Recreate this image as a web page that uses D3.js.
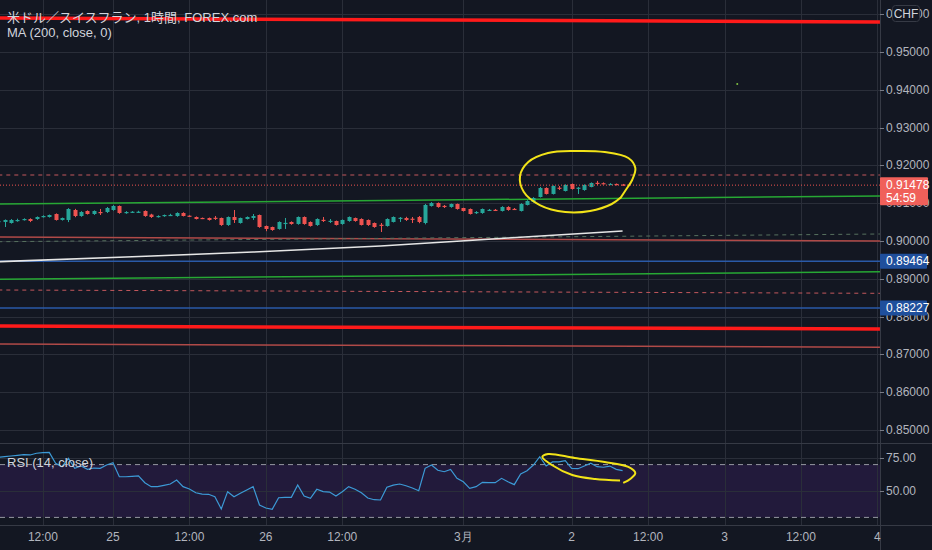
<!DOCTYPE html>
<html>
<head>
<meta charset="utf-8">
<script src="https://cdn.jsdelivr.net/npm/d3@7"></script>
<style>
  html, body { margin: 0; padding: 0; background: #131722; overflow: hidden; }
  svg { display: block; }
  .axis-text { font-family: "Liberation Sans Narrow", "Liberation Sans", Roboto, sans-serif; font-size: 12px; fill: #b2b5be; }
  .legend { font-family: "Liberation Sans", "Noto Sans CJK JP", sans-serif; font-size: 13px; fill: #d1d4dc; }
</style>
</head>
<body>
<div id="chart"></div>
<script>
// hourly candles, USD/CHF
let opens = [0.90503,0.90503,0.90476,0.90529,0.90556,0.90582,0.90582,0.90635,0.90635,0.90714,
  0.90556,0.90556,0.90820,0.90661,0.90794,0.90714,0.90767,0.90767,0.90820,0.90926,
  0.90741,0.90760,0.90760,0.90794,0.90700,0.90640,0.90661,0.90680,0.90661,0.90741,
  0.90670,0.90635,0.90610,0.90609,0.90615,0.90609,0.90423,0.90635,0.90476,0.90582,
  0.90609,0.90688,0.90397,0.90370,0.90318,0.90470,0.90503,0.90450,0.90635,0.90503,
  0.90423,0.90560,0.90525,0.90529,0.90450,0.90529,0.90609,0.90582,0.90556,0.90476,
  0.90430,0.90397,0.90503,0.90600,0.90609,0.90590,0.90635,0.90476,0.90926,0.91005,
  0.90930,0.90900,0.90979,0.90873,0.90847,0.90741,0.90741,0.90815,0.90825,0.90794,
  0.90900,0.90850,0.90794,0.90953,0.91032,0.91164,0.91402,0.91244,0.91410,0.91323,
  0.91508,0.91395,0.91349,0.91429,0.91540,0.91530,0.91500,0.91510,0.91495]
let highs = [0.90550,0.90570,0.90580,0.90590,0.90600,0.90600,0.90650,0.90680,0.90700,0.90730,
  0.90620,0.90870,0.90850,0.90790,0.90810,0.90810,0.90847,0.90900,0.90950,0.90940,
  0.90790,0.90790,0.90800,0.90810,0.90720,0.90680,0.90700,0.90720,0.90760,0.90760,
  0.90680,0.90650,0.90620,0.90620,0.90661,0.90620,0.90650,0.90820,0.90620,0.90650,
  0.90714,0.90700,0.90410,0.90380,0.90520,0.90609,0.90520,0.90650,0.90650,0.90520,
  0.90600,0.90635,0.90582,0.90540,0.90570,0.90650,0.90620,0.90600,0.90570,0.90490,
  0.90476,0.90600,0.90650,0.90635,0.90640,0.90635,0.90661,0.90980,0.91030,0.91020,
  0.90953,0.90990,0.90990,0.90880,0.90860,0.90790,0.90860,0.90847,0.90847,0.90920,
  0.90920,0.90873,0.91000,0.91080,0.91160,0.91430,0.91420,0.91470,0.91455,0.91500,
  0.91520,0.91429,0.91500,0.91550,0.91590,0.91550,0.91530,0.91520,0.91510]
let lows = [0.90480,0.90370,0.90460,0.90510,0.90540,0.90500,0.90560,0.90620,0.90620,0.90540,
  0.90540,0.90500,0.90630,0.90640,0.90700,0.90690,0.90688,0.90740,0.90800,0.90720,
  0.90720,0.90740,0.90740,0.90640,0.90610,0.90620,0.90640,0.90660,0.90640,0.90650,
  0.90640,0.90570,0.90580,0.90540,0.90556,0.90400,0.90400,0.90476,0.90460,0.90570,
  0.90556,0.90350,0.90260,0.90270,0.90300,0.90318,0.90430,0.90430,0.90430,0.90380,
  0.90400,0.90503,0.90476,0.90410,0.90430,0.90510,0.90510,0.90410,0.90400,0.90350,
  0.90238,0.90380,0.90490,0.90503,0.90530,0.90476,0.90470,0.90440,0.90910,0.90880,
  0.90873,0.90880,0.90830,0.90780,0.90700,0.90714,0.90720,0.90794,0.90794,0.90780,
  0.90800,0.90820,0.90780,0.90940,0.91020,0.91150,0.91230,0.91230,0.91349,0.91310,
  0.91360,0.91244,0.91330,0.91420,0.91482,0.91500,0.91490,0.91470,0.91460]
let closes = [0.90529,0.90556,0.90556,0.90556,0.90582,0.90529,0.90635,0.90661,0.90688,0.90556,
  0.90609,0.90847,0.90661,0.90767,0.90714,0.90794,0.90741,0.90873,0.90926,0.90741,
  0.90767,0.90775,0.90775,0.90661,0.90635,0.90661,0.90688,0.90690,0.90741,0.90661,
  0.90655,0.90582,0.90600,0.90556,0.90600,0.90423,0.90635,0.90556,0.90609,0.90635,
  0.90661,0.90370,0.90318,0.90291,0.90503,0.90480,0.90450,0.90635,0.90450,0.90397,
  0.90582,0.90550,0.90535,0.90423,0.90556,0.90635,0.90529,0.90423,0.90423,0.90370,
  0.90415,0.90582,0.90635,0.90615,0.90556,0.90575,0.90503,0.90953,0.91005,0.90900,
  0.90910,0.90979,0.90847,0.90794,0.90714,0.90767,0.90847,0.90825,0.90815,0.90900,
  0.90820,0.90840,0.90979,0.91058,0.91138,0.91402,0.91244,0.91455,0.91395,0.91482,
  0.91376,0.91410,0.91482,0.91535,0.91525,0.91515,0.91510,0.91495,0.91478]

// RSI(14) per bar
let rsi = [75.5,76.0,76.5,77.0,77.5,77.3,78.6,79.0,79.3,71.0,
  68.4,74.8,67.2,68.9,66.4,67.4,67.2,69.7,71.4,60.8,
  60.8,61.1,61.4,56.3,53.3,53.3,54.3,55.3,58.3,53.3,
  51.5,48.7,47.7,47.5,45.7,36.4,49.5,45.7,48.3,50.8,
  53.3,39.4,37.1,36.1,44.9,45.2,45.2,54.5,46.2,44.5,
  51.3,49.5,49.2,46.2,49.5,53.3,51.3,48.7,44.7,43.4,
  43.2,52.8,54.5,55.3,54.0,52.3,50.2,67.2,69.7,65.7,
  64.6,66.4,59.6,57.0,52.0,53.3,56.6,56.3,56.3,59.6,
  57.0,54.8,62.9,65.4,69.7,76.0,68.9,72.0,72.0,73.0,
  67.2,66.9,68.9,71.0,68.4,68.0,68.9,66.4,65.4]

// MA(200) read at a few bars
let maBars = [0, 20, 40, 60, 80, 98]
let maValues = [0.89452, 0.89577, 0.89709, 0.89868, 0.90079, 0.90265]

// drawn lines: [start bar, start price, end bar, end price]
let levels = [
  [0, 0.95899, 138.4, 0.95794],
  [0, 0.91746, 138.4, 0.91746],
  [0, 0.90979, 138.4, 0.91190],
  [0, 0.90106, 138.4, 0.90000],
  [0, 0.89981, 138.4, 0.90185],
  [0, 0.89464, 138.4, 0.89464],
  [0, 0.88987, 138.4, 0.89188],
  [0, 0.88704, 138.4, 0.88616],
  [0, 0.88227, 138.4, 0.88227],
  [0, 0.87751, 138.4, 0.87672],
  [0, 0.87275, 138.4, 0.87190]
]
let levelColor = ["#ff1a1a", "#c4585d", "#27a834", "#b04a48", "#56705e", "#2a5aa8",
                  "#27a834", "#c4585d", "#2a5aa8", "#ff1a1a", "#b04a48"]
let levelWidth = [3.5, 1, 1.5, 1.5, 1, 1.5, 1.5, 1, 1.5, 3.5, 1.5]
let levelDash = [null, "4,4", null, null, "4,4", null, null, "4,4", null, null, null]
let blueLevels = [0.89464, 0.88227]

// hand-drawn marks: [bar, price] and [bar, rsi]
let circleMain = [[97.8,0.91164],[96.3,0.90979],[92.9,0.90794],[89.0,0.90767],[85.0,0.90952],
  [82.5,0.91296],[81.9,0.91720],[83.2,0.92090],[86.3,0.92328],[90.5,0.92381],[95.2,0.92354],
  [98.9,0.92196],[100.0,0.91931],[99.5,0.91614],[98.5,0.91349],[97.6,0.91120]]
let circleRsi = [[97.6,58.0],[93.7,59.1],[90.1,62.1],[86.9,69.7],[85.4,75.8],[86.3,78.0],
  [90.5,75.0],[95.2,72.0],[98.9,68.2],[100.0,63.6],[99.2,59.1],[98.1,56.1]]
let strayDot = [116.0, 0.94153]

let priceTicks = [0.85, 0.86, 0.87, 0.88, 0.89, 0.90, 0.91, 0.92, 0.93, 0.94, 0.95, 0.96]
let rsiTicks = [75, 50]
let rsiBands = [70, 30]
let timeTickBars = [7, 18, 30, 42, 54, 73, 90, 102, 114, 126, 138]
let timeTickLabels = ["12:00", "25", "12:00", "26", "12:00", "3月", "2", "12:00", "3", "12:00", "4"]

let width = 932,
    height = 550,
    axisX = 880,
    paneSplit = 443,
    paneBottom = 525

let svg = d3.select("#chart").append("svg")
    .attr("width", width)
    .attr("height", height)

svg.append("rect").attr("width", width).attr("height", height).attr("fill", "#131722")

let x = d3.scaleLinear().domain([0, 138]).range([-1.7, 877.4])
let y = d3.scaleLinear().domain([0.85, 0.96]).range([430, 14.2])
let yr = d3.scaleLinear().domain([30, 75]).range([517.4, 458])

// clip areas for the two panes
let defs = svg.append("defs")
defs.append("clipPath").attr("id", "mainClip")
  .append("rect").attr("width", axisX).attr("height", paneSplit)
defs.append("clipPath").attr("id", "rsiClip")
  .append("rect").attr("y", paneSplit).attr("width", axisX).attr("height", paneBottom - paneSplit)

// RSI band fill
svg.append("rect")
    .attr("x", 0).attr("width", axisX)
    .attr("y", yr(rsiBands[0]))
    .attr("height", yr(rsiBands[1]) - yr(rsiBands[0]))
    .attr("fill", "#221a3b")

// grid
let grid = svg.append("g").attr("stroke", "#2a2e39").attr("stroke-width", 1)
grid.selectAll(".vg").data(timeTickBars).enter().append("line")
    .attr("x1", d => Math.round(x(d)) + 0.5).attr("x2", d => Math.round(x(d)) + 0.5)
    .attr("y1", 0).attr("y2", paneBottom)
grid.selectAll(".hg").data(priceTicks).enter().append("line")
    .attr("x1", 0).attr("x2", axisX)
    .attr("y1", d => Math.round(y(d)) + 0.5).attr("y2", d => Math.round(y(d)) + 0.5)
grid.selectAll(".rg").data(rsiTicks).enter().append("line")
    .attr("x1", 0).attr("x2", axisX)
    .attr("y1", d => Math.round(yr(d)) + 0.5).attr("y2", d => Math.round(yr(d)) + 0.5)

// main pane
let main = svg.append("g").attr("clip-path", "url(#mainClip)")

main.selectAll(".level").data(levels).enter().append("line")
    .attr("x1", d => x(d[0])).attr("y1", d => y(d[1]))
    .attr("x2", d => x(d[2])).attr("y2", d => y(d[3]))
    .attr("stroke", (d, i) => levelColor[i])
    .attr("stroke-width", (d, i) => levelWidth[i])
    .attr("stroke-dasharray", (d, i) => levelDash[i])

main.append("path")
    .datum(maBars.map((b, i) => [b, maValues[i]]))
    .attr("fill", "none")
    .attr("stroke", "#e6e6e6")
    .attr("stroke-width", 1.6)
    .attr("d", d3.line().x(d => x(d[0])).y(d => y(d[1])).curve(d3.curveMonotoneX))

let candles = main.selectAll(".candle").data(closes).enter().append("g")
let candleColor = (i) => closes[i] >= opens[i] ? "#26a69a" : "#ef5350"
candles.append("line")
    .attr("x1", (d, i) => Math.round(x(i)) + 0.5).attr("x2", (d, i) => Math.round(x(i)) + 0.5)
    .attr("y1", (d, i) => y(highs[i])).attr("y2", (d, i) => y(lows[i]))
    .attr("stroke", (d, i) => candleColor(i))
candles.append("rect")
    .attr("x", (d, i) => Math.round(x(i)) - 1.5)
    .attr("width", 4)
    .attr("y", (d, i) => y(Math.max(opens[i], closes[i])))
    .attr("height", (d, i) => Math.max(1.2, Math.abs(y(opens[i]) - y(closes[i]))))
    .attr("fill", (d, i) => candleColor(i))

// last price line
let lastPrice = closes[closes.length - 1]
main.append("line")
    .attr("x1", 0).attr("x2", axisX)
    .attr("y1", y(lastPrice)).attr("y2", y(lastPrice))
    .attr("stroke", "#ef5350").attr("stroke-width", 1)
    .attr("stroke-dasharray", "1,2")

main.append("path")
    .datum(circleMain)
    .attr("fill", "none").attr("stroke", "#f2e318").attr("stroke-width", 2)
    .attr("d", d3.line().x(d => x(d[0])).y(d => y(d[1])).curve(d3.curveCatmullRom))

main.append("circle")
    .attr("cx", x(strayDot[0])).attr("cy", y(strayDot[1])).attr("r", 1)
    .attr("fill", "#7fc242")

// RSI pane
let rsiG = svg.append("g").attr("clip-path", "url(#rsiClip)")
rsiG.selectAll(".band").data(rsiBands).enter().append("line")
    .attr("x1", 0).attr("x2", axisX)
    .attr("y1", d => yr(d)).attr("y2", d => yr(d))
    .attr("stroke", "#9598a1").attr("stroke-dasharray", "5,4")
rsiG.append("path")
    .datum(rsi)
    .attr("fill", "none").attr("stroke", "#3c9ad6").attr("stroke-width", 1.2)
    .attr("d", d3.line().x((d, i) => x(i)).y(d => yr(d)))
rsiG.append("path")
    .datum(circleRsi)
    .attr("fill", "none").attr("stroke", "#f2e318").attr("stroke-width", 2)
    .attr("d", d3.line().x(d => x(d[0])).y(d => yr(d[1])).curve(d3.curveCatmullRom))

// separators and axis line
let sep = svg.append("g").attr("stroke", "#363a45")
sep.append("line").attr("x1", 0).attr("x2", width).attr("y1", paneSplit + 0.5).attr("y2", paneSplit + 0.5)
sep.append("line").attr("x1", 0).attr("x2", width).attr("y1", paneBottom + 0.5).attr("y2", paneBottom + 0.5)
sep.append("line").attr("x1", axisX + 0.5).attr("x2", axisX + 0.5).attr("y1", 0).attr("y2", height)

// legends
svg.append("text").attr("class", "legend").attr("x", 7).attr("y", 22)
    .text("米ドル／スイスフラン, 1時間, FOREX.com")
svg.append("text").attr("class", "legend").attr("x", 7).attr("y", 37)
    .text("MA (200, close, 0)")
svg.append("text").attr("class", "legend").attr("x", 7).attr("y", 467)
    .text("RSI (14, close)")

// right price axis
let pa = svg.append("g")
pa.selectAll(".pt").data(priceTicks).enter().append("line")
    .attr("x1", axisX).attr("x2", axisX + 4)
    .attr("y1", d => Math.round(y(d)) + 0.5).attr("y2", d => Math.round(y(d)) + 0.5)
    .attr("stroke", "#787b86")
pa.selectAll(".pl").data(priceTicks).enter().append("text")
    .attr("class", "axis-text")
    .attr("x", 886).attr("y", d => y(d) + 4)
    .text(d => d3.format(".5f")(d))
pa.selectAll(".rt").data(rsiTicks).enter().append("line")
    .attr("x1", axisX).attr("x2", axisX + 4)
    .attr("y1", d => Math.round(yr(d)) + 0.5).attr("y2", d => Math.round(yr(d)) + 0.5)
    .attr("stroke", "#787b86")
pa.selectAll(".rl").data(rsiTicks).enter().append("text")
    .attr("class", "axis-text")
    .attr("x", 886).attr("y", d => yr(d) + 4)
    .text(d => d3.format(".2f")(d))

// blue level labels
let bl = pa.selectAll(".bl").data(blueLevels).enter().append("g")
bl.append("rect")
    .attr("x", axisX).attr("y", d => y(d) - 7.5)
    .attr("width", 47).attr("height", 15).attr("rx", 1)
    .attr("fill", "#1f4f9c")
bl.append("text")
    .attr("class", "axis-text").style("fill", "#ffffff")
    .attr("x", 886).attr("y", d => y(d) + 4)
    .text(d => d3.format(".5f")(d))

// last price label
pa.append("rect")
    .attr("x", axisX).attr("y", y(lastPrice) - 8)
    .attr("width", 48).attr("height", 28).attr("rx", 1)
    .attr("fill", "#f0605a")
pa.append("text").attr("class", "axis-text").style("fill", "#ffffff")
    .attr("x", 886).attr("y", y(lastPrice) + 4)
    .text(d3.format(".5f")(lastPrice))
pa.append("text").attr("class", "axis-text").style("fill", "#ffffff")
    .attr("x", 886).attr("y", y(lastPrice) + 17)
    .text("54:59")

// currency badge
pa.append("rect")
    .attr("x", 892.5).attr("y", 5.5).attr("width", 27).attr("height", 16).attr("rx", 3)
    .attr("fill", "#131722").attr("stroke", "#363a45")
pa.append("text").attr("class", "axis-text").style("fill", "#d1d4dc")
    .attr("x", 906).attr("y", 17.5).attr("text-anchor", "middle")
    .text("CHF")

// time axis
let ta = svg.append("g")
ta.selectAll(".tl").data(timeTickBars).enter().append("text")
    .attr("class", "axis-text")
    .attr("x", d => x(d)).attr("y", 541)
    .attr("text-anchor", "middle")
    .text((d, i) => timeTickLabels[i])
</script>
</body>
</html>
